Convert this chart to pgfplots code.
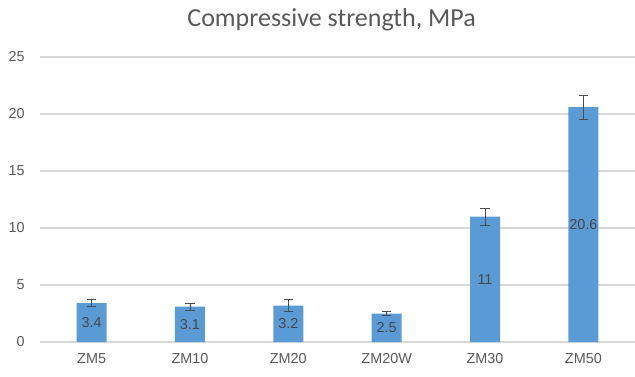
\documentclass[border=0pt]{standalone}
\usepackage{pgfplots}
\pgfplotsset{compat=1.18}
\usepackage{fontspec}
\setmainfont{Liberation Sans}
\newfontfamily\titlefont{Carlito}
\definecolor{barblue}{HTML}{5B9BD5}
\definecolor{txtgray}{HTML}{595959}
\definecolor{gridgray}{HTML}{D9D9D9}
\begin{document}
\begin{tikzpicture}
\begin{axis}[
  at={(0pt,0pt)}, anchor=south west,
  scale only axis,
  width=446.25pt, height=213.75pt,
  xmin=-0.525, xmax=5.525, ymin=0, ymax=25,
  ytick={0,5,10,15,20,25},
  xtick={0,1,2,3,4,5},
  xticklabels={ZM5,ZM10,ZM20,ZM20W,ZM30,ZM50},
  axis line style={draw=none},
  major tick length=0pt,
  ymajorgrids, grid style={gridgray, line width=0.8pt},
  tick label style={font=\fontsize{10.8}{12}\selectfont, text=txtgray},
  /pgf/number format/assume math mode=true,
  yticklabel style={xshift=-8pt},
  xticklabel style={yshift=-5pt},
  title={\titlefont\fontsize{19.5}{22}\selectfont Compressive strength, MPa},
  title style={text=txtgray, at={(0.49,1)}, yshift=10pt},
  clip=false,
]
\addplot[ybar, bar width=22.5pt, fill=barblue, draw=none,
  nodes near coords,
  visualization depends on={y \as \rawy},
  every node near coord/.append style={anchor=center, font=\fontsize{10.8}{12}\selectfont, text=black!72,
    shift={(axis direction cs:0,-\rawy/2)}},
  error bars/.cd, y dir=both, y explicit,
  error bar style={black!70, line width=0.6pt},
  error mark options={rotate=90, mark size=3.5pt, black!70, line width=0.6pt}]
coordinates {
  (0,3.4) +- (0,0.3)
  (1,3.1) +- (0,0.3)
  (2,3.2) +- (0,0.5)
  (3,2.5) +- (0,0.2)
  (4,11) +- (0,0.75)
  (5,20.6) +- (0,1.05)
};
\end{axis}
\pgfresetboundingbox
\useasboundingbox (-30pt,-25.5pt) rectangle (446.25pt,256.5pt);
\end{tikzpicture}
\end{document}
